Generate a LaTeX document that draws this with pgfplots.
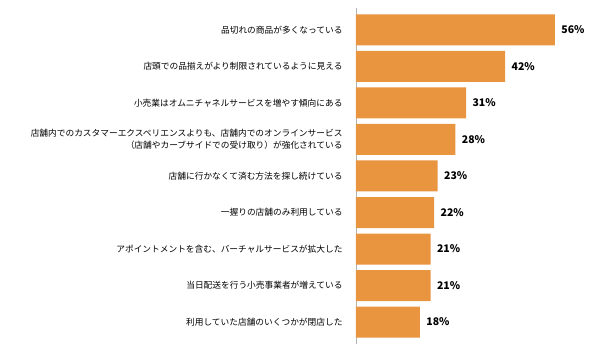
\documentclass[border=0pt]{standalone}
\usepackage{pgfplots}
\pgfplotsset{compat=1.18}
\usepackage{fontspec}
\setmainfont{Noto Sans CJK JP}
\definecolor{barc}{RGB}{233,148,62}
\begin{document}
\begin{tikzpicture}
\begin{axis}[
  scale only axis,
  width=234bp, height=336bp,
  xbar, y dir=reverse,
  xmin=0, xmax=65.9,
  ymin=-0.6, ymax=8.6,
  bar width=31bp,
  axis x line=none,
  axis y line*=left,
  y axis line style={draw=gray!60, line width=0.8pt},
  ytick={0,...,8},
  major tick length=0pt,
  /pgf/number format/assume math mode=true,
  yticklabels={
    品切れの商品が多くなっている,
    店頭での品揃えがより制限されているように見える,
    小売業はオムニチャネルサービスを増やす傾向にある,
    {店舗内でのカスタマーエクスペリエンスよりも、店舗内でのオンラインサービス\\（店舗やカーブサイドでの受け取り）が強化されている},
    店舗に行かなくて済む方法を探し続けている,
    一握りの店舗のみ利用している,
    アポイントメントを含む、バーチャルサービスが拡大した,
    当日配送を行う小売事業者が増えている,
    利用していた店舗のいくつかが閉店した},
  yticklabel style={font=\fontsize{8.7bp}{12bp}\selectfont, align=right, xshift=-10bp},
  nodes near coords={\textbf{\pgfmathprintnumber\pgfplotspointmeta\%}},
  nodes near coords style={font=\fontsize{10.5bp}{12bp}\selectfont, anchor=west, xshift=3bp},
  clip=false,
]
\addplot[fill=barc, draw=none] coordinates {
  (56,0) (42,1) (31,2) (28,3) (23,4) (22,5) (21,6) (21,7) (18,8)
};
\end{axis}
\pgfresetboundingbox
\path[use as bounding box] ([xshift=-356bp,yshift=-10bp]current axis.south west) rectangle ([xshift=10bp,yshift=8bp]current axis.north east);
\end{tikzpicture}
\end{document}
